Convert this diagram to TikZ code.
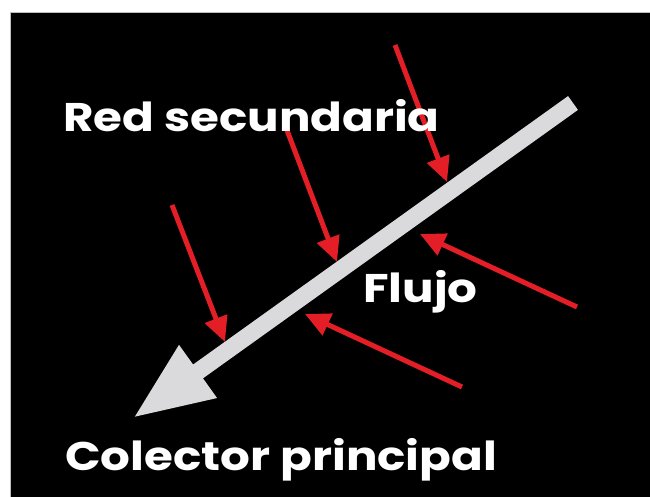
\documentclass[tikz,border=0pt]{standalone}
\usepackage{fontspec}
\usepackage{graphicx}
\setmainfont{Poppins}
\usetikzlibrary{arrows.meta}
\definecolor{flowred}{HTML}{E41E26}
\definecolor{flowgray}{HTML}{DADADC}
\newcommand{\widetxt}[1]{\scalebox{1.17}[1]{#1}}
\tikzset{
  redarrow/.style={draw=flowred, line width=5pt, -{Triangle[length=25pt,width=23pt]}},
  bigarrow/.style={draw=flowgray, line width=17pt, -{Triangle[length=80pt,width=60pt]}},
  lbl/.style={text=white, font=\bfseries\fontsize{40}{40}\selectfont, anchor=base west, inner sep=0pt}
}
\begin{document}
\begin{tikzpicture}[x=1pt,y=-1pt]
\useasboundingbox (0,0) rectangle (650,497);
\fill[white] (0,0) rectangle (650,497);
\fill[black] (10,13) rectangle (650,497);
\draw[gray!50, line width=1pt] (10,497) -- (10,13) -- (650,13);
% big arrow
\coordinate (bigS) at (573,103);
\coordinate (bigE) at (133,418);
\draw[bigarrow] (bigS) -- (bigE);
% red arrows
\coordinate (r1s) at (395,45);  \coordinate (r1e) at (447,182);
\coordinate (r2s) at (285,125); \coordinate (r2e) at (337,262);
\coordinate (r3s) at (172,205); \coordinate (r3e) at (225,342);
\coordinate (r4s) at (577,307); \coordinate (r4e) at (420,234);
\coordinate (r5s) at (462,387); \coordinate (r5e) at (305,314);
\draw[redarrow] (r1s) -- (r1e);
\draw[redarrow] (r2s) -- (r2e);
\draw[redarrow] (r3s) -- (r3e);
\draw[redarrow] (r4s) -- (r4e);
\draw[redarrow] (r5s) -- (r5e);
% labels
\node[lbl] (red) at (63,132) {\widetxt{Red secundaria}};
\node[lbl] (flujo) at (363,302) {\widetxt{Flujo}};
\node[lbl] (colector) at (65,470) {\widetxt{Colector principal}};
\end{tikzpicture}
\end{document}
